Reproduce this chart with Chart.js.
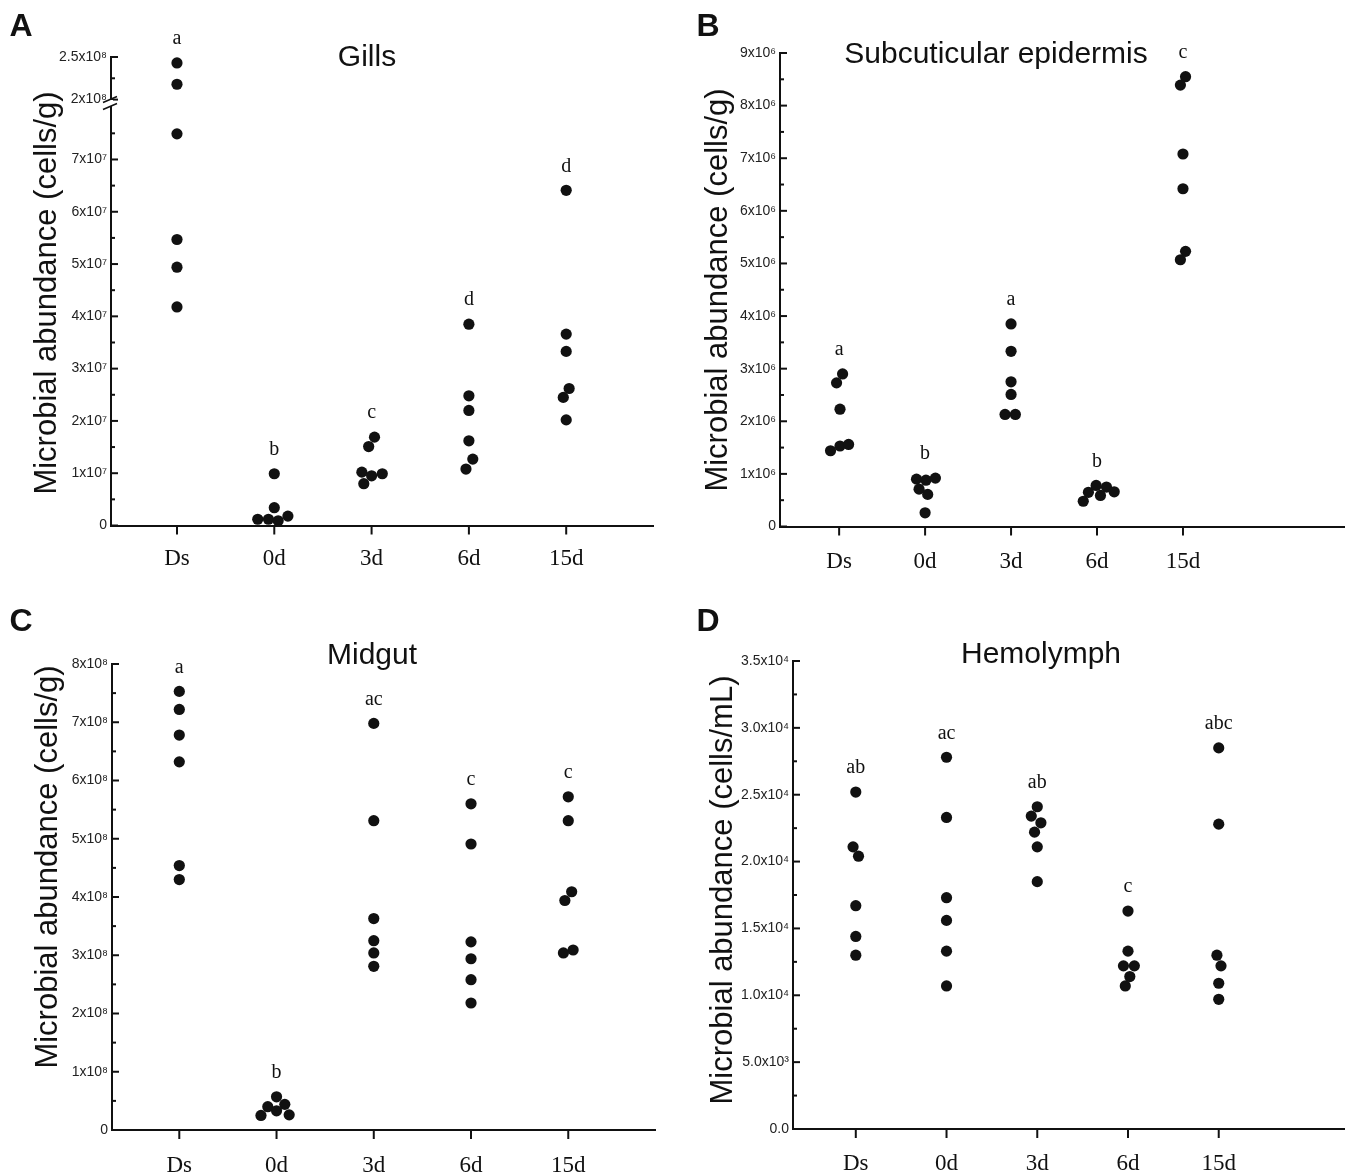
<!DOCTYPE html>
<html>
<head>
<meta charset="utf-8">
<script src="https://cdn.jsdelivr.net/npm/chart.js@4.4.1/dist/chart.umd.min.js"></script>
<style>
body { margin: 0; background: #fff; width: 1350px; height: 1176px; position: relative; overflow: hidden; }
.panel { position: absolute; width: 675px; height: 588px; }
</style>
</head>
<body>
<div class="panel" style="left:0;top:0"><canvas id="cA"></canvas></div>
<div class="panel" style="left:675px;top:0"><canvas id="cB"></canvas></div>
<div class="panel" style="left:0;top:588px"><canvas id="cC"></canvas></div>
<div class="panel" style="left:675px;top:588px"><canvas id="cD"></canvas></div>
<script>
const categories = ['Ds', '0d', '3d', '6d', '15d'];

// A - Gills (axis broken between 8x10^7 and 2x10^8)
const gillsValues = [
    [2.43e8, 2.18e8, 7.49e7, 5.47e7, 4.94e7, 4.18e7],
    [0.99e7, 0.34e7, 0.12e7, 0.12e7, 0.09e7, 0.18e7],
    [1.69e7, 1.51e7, 1.02e7, 0.95e7, 0.99e7, 0.80e7],
    [3.85e7, 2.48e7, 2.20e7, 1.62e7, 1.27e7, 1.08e7],
    [6.41e7, 3.66e7, 3.33e7, 2.62e7, 2.45e7, 2.02e7]
];
const gillsJitter = [
    [0, 0, 0, 0, 0, 0],
    [0, 0, -0.17, -0.06, 0.04, 0.14],
    [0.03, -0.03, -0.10, 0, 0.11, -0.08],
    [0, 0, 0, 0, 0.04, -0.03],
    [0, 0, 0, 0.03, -0.03, 0]
];
const gillsLetters = ['a', 'b', 'c', 'd', 'd'];
const gillsTickVals = [0, 1e7, 2e7, 3e7, 4e7, 5e7, 6e7, 7e7];
const gillsTickText = ['0', '1x10⁷', '2x10⁷', '3x10⁷', '4x10⁷', '5x10⁷', '6x10⁷', '7x10⁷'];
const gillsTopTickVals = [2e8, 2.5e8];
const gillsTopTickText = ['2x10⁸', '2.5x10⁸'];

// B - Subcuticular epidermis
const epiValues = [
    [2.90e6, 2.73e6, 2.23e6, 1.44e6, 1.53e6, 1.56e6],
    [0.90e6, 0.88e6, 0.92e6, 0.71e6, 0.61e6, 0.26e6],
    [3.85e6, 3.33e6, 2.75e6, 2.51e6, 2.13e6, 2.13e6],
    [0.48e6, 0.65e6, 0.78e6, 0.59e6, 0.75e6, 0.66e6],
    [8.55e6, 8.39e6, 7.08e6, 6.42e6, 5.23e6, 5.07e6]
];
const epiJitter = [
    [0.04, -0.03, 0.01, -0.10, 0.01, 0.11],
    [-0.10, 0.01, 0.12, -0.07, 0.03, 0],
    [0, 0, 0, 0, -0.07, 0.05],
    [-0.16, -0.10, -0.01, 0.04, 0.11, 0.20],
    [0.03, -0.03, 0, 0, 0.03, -0.03]
];
const epiLetters = ['a', 'b', 'a', 'b', 'c'];
const epiTickVals = [0, 1e6, 2e6, 3e6, 4e6, 5e6, 6e6, 7e6, 8e6, 9e6];
const epiTickText = ['0', '1x10⁶', '2x10⁶', '3x10⁶', '4x10⁶', '5x10⁶', '6x10⁶', '7x10⁶', '8x10⁶', '9x10⁶'];

// C - Midgut
const midgutValues = [
    [7.53e8, 7.22e8, 6.78e8, 6.32e8, 4.54e8, 4.30e8],
    [0.57e8, 0.40e8, 0.44e8, 0.33e8, 0.25e8, 0.26e8],
    [6.98e8, 5.31e8, 3.63e8, 3.25e8, 3.04e8, 2.81e8],
    [5.60e8, 4.91e8, 3.23e8, 2.94e8, 2.58e8, 2.18e8],
    [5.72e8, 5.31e8, 4.09e8, 3.94e8, 3.09e8, 3.04e8]
];
const midgutJitter = [
    [0, 0, 0, 0, 0, 0],
    [0, -0.09, 0.085, 0, -0.16, 0.13],
    [0, 0, 0, 0, 0, 0],
    [0, 0, 0, 0, 0, 0],
    [0, 0, 0.035, -0.035, 0.05, -0.05]
];
const midgutLetters = ['a', 'b', 'ac', 'c', 'c'];
const midgutTickVals = [0, 1e8, 2e8, 3e8, 4e8, 5e8, 6e8, 7e8, 8e8];
const midgutTickText = ['0', '1x10⁸', '2x10⁸', '3x10⁸', '4x10⁸', '5x10⁸', '6x10⁸', '7x10⁸', '8x10⁸'];

// D - Hemolymph (cells/mL)
const hemoValues = [
    [2.52e4, 2.11e4, 2.04e4, 1.67e4, 1.44e4, 1.30e4],
    [2.78e4, 2.33e4, 1.73e4, 1.56e4, 1.33e4, 1.07e4],
    [2.41e4, 2.34e4, 2.29e4, 2.22e4, 2.11e4, 1.85e4],
    [1.63e4, 1.33e4, 1.22e4, 1.22e4, 1.14e4, 1.07e4],
    [2.85e4, 2.28e4, 1.30e4, 1.22e4, 1.09e4, 0.97e4]
];
const hemoJitter = [
    [0, -0.03, 0.03, 0, 0, 0],
    [0, 0, 0, 0, 0, 0],
    [0, -0.066, 0.04, -0.03, 0, 0],
    [0, 0, -0.05, 0.07, 0.02, -0.03],
    [0, 0, -0.02, 0.025, 0, 0]
];
const hemoLetters = ['ab', 'ac', 'ab', 'c', 'abc'];
const hemoTickVals = [0, 5e3, 1e4, 1.5e4, 2e4, 2.5e4, 3e4, 3.5e4];
const hemoTickText = ['0.0', '5.0x10³', '1.0x10⁴', '1.5x10⁴', '2.0x10⁴', '2.5x10⁴', '3.0x10⁴', '3.5x10⁴'];

const SANS = "'Liberation Sans', Arial, sans-serif";
const SERIF = "'Liberation Serif', 'Times New Roman', serif";

// major ticks plus one unlabelled minor tick halfway between
function withMinor(vals, max) {
    const step = vals[1] - vals[0];
    const out = [];
    vals.forEach(v => {
        out.push(v);
        if (v + step / 2 <= max + step * 1e-6) out.push(v + step / 2);
    });
    return out;
}

function labeller(vals, text) {
    const tol = (vals[1] - vals[0]) * 1e-3;
    return v => {
        const k = vals.findIndex(t => Math.abs(t - v) < tol);
        return k < 0 ? '' : text[k];
    };
}

function yAxis(p, min, max, vals, text, extra) {
    return Object.assign({
        type: 'linear',
        position: 'left',
        min: min,
        max: max,
        afterFit: s => { s.width = p.axisW; },
        afterBuildTicks: s => { s.ticks = withMinor(vals, max).map(v => ({ value: v })); },
        grid: { display: false, drawTicks: false },
        border: { display: true, color: '#111', width: 2 },
        ticks: {
            autoSkip: false,
            padding: 4,
            color: '#222',
            font: { family: SANS, size: 14 },
            callback: labeller(vals, text)
        }
    }, extra || {});
}

const decor = {
    id: 'decor',
    afterDatasetsDraw(chart, args, p) {
        const ctx = chart.ctx;
        const area = chart.chartArea;
        const ax = area.left - 1;
        ctx.save();
        ctx.strokeStyle = '#111';
        ctx.lineWidth = 2;
        // inward y ticks
        Object.values(chart.scales).forEach(s => {
            if (s.axis !== 'y') return;
            s.ticks.forEach(t => {
                const y = s.getPixelForValue(t.value);
                const len = t.label ? 8 : 5;
                ctx.beginPath();
                ctx.moveTo(ax, y);
                ctx.lineTo(ax + len, y);
                ctx.stroke();
            });
        });
        // outward x ticks
        const xs = chart.scales.x;
        xs.ticks.forEach(t => {
            const x = xs.getPixelForValue(t.value);
            ctx.beginPath();
            ctx.moveTo(x, area.bottom);
            ctx.lineTo(x, area.bottom + 9);
            ctx.stroke();
        });
        // axis break
        if (p.breakAt) {
            const yb = chart.scales.yTop.bottom;
            ctx.fillStyle = '#fff';
            ctx.fillRect(ax - 3, yb - 3, 6, 6);
            ctx.lineWidth = 1.5;
            [-3.5, 3.5].forEach(d => {
                ctx.beginPath();
                ctx.moveTo(ax - 7, yb + d + 3);
                ctx.lineTo(ax + 7, yb + d - 3);
                ctx.stroke();
            });
        }
        // significance letters above each group
        ctx.fillStyle = '#111';
        ctx.font = '20px ' + SERIF;
        ctx.textAlign = 'center';
        ctx.textBaseline = 'middle';
        p.values.forEach((grp, i) => {
            let top = Infinity;
            grp.forEach(v => {
                const s = (p.breakAt && v > p.breakAt) ? chart.scales.yTop : chart.scales.y;
                top = Math.min(top, s.getPixelForValue(v));
            });
            ctx.fillText(p.letters[i], xs.getPixelForValue(i), top - 24);
        });
        ctx.restore();
    },
    afterDraw(chart, args, p) {
        const ctx = chart.ctx;
        ctx.save();
        ctx.fillStyle = '#111';
        ctx.textBaseline = 'middle';
        ctx.textAlign = 'center';
        ctx.font = 'bold 32px ' + SANS;
        ctx.fillText(p.letter, p.letterX, p.letterY);
        ctx.font = '30px ' + SANS;
        ctx.fillText(p.title, p.titleX, p.titleY);
        ctx.translate(p.yTitleX, p.yTitleY);
        ctx.rotate(-Math.PI / 2);
        ctx.font = '31px ' + SANS;
        ctx.fillText(p.yTitle, 0, 0);
        ctx.restore();
    }
};

function makePanel(id, p) {
    const style = {
        showLine: false,
        pointRadius: 5.6,
        pointHoverRadius: 5.6,
        pointBackgroundColor: '#111',
        pointBorderWidth: 0,
        borderColor: '#111'
    };
    const main = [];
    const upper = [];
    p.values.forEach((grp, i) => grp.forEach((v, j) => {
        const pt = { x: i + p.jitter[i][j], y: v };
        if (p.breakAt && v > p.breakAt) upper.push(pt); else main.push(pt);
    }));
    const datasets = [Object.assign({ data: main, yAxisID: 'y' }, style)];
    if (upper.length) datasets.push(Object.assign({ data: upper, yAxisID: 'yTop' }, style));

    const scales = {
        x: {
            type: 'linear',
            position: 'bottom',
            min: p.xMin,
            max: p.xMax,
            afterFit: s => { s.height = p.xAxisH; },
            afterBuildTicks: s => { s.ticks = categories.map((c, i) => ({ value: i })); },
            grid: { display: false, drawTicks: false },
            border: { display: true, color: '#111', width: 2 },
            ticks: {
                autoSkip: false,
                maxRotation: 0,
                padding: p.xPad,
                color: '#111',
                font: { family: SERIF, size: 23 },
                callback: v => categories[v]
            }
        },
        y: yAxis(p, 0, p.yMax, p.tickVals, p.tickText, p.breakAt ? { stack: 'brk', stackWeight: p.lowWeight } : {})
    };
    if (p.breakAt) {
        scales.yTop = yAxis(p, p.topMin, p.topMax, p.topTickVals, p.topTickText, { stack: 'brk', stackWeight: p.topWeight });
    }

    new Chart(document.getElementById(id), {
        type: 'scatter',
        data: { datasets: datasets },
        options: {
            responsive: true,
            maintainAspectRatio: false,
            animation: false,
            layout: { padding: { left: 0, top: p.padTop, right: p.padRight, bottom: 0 } },
            scales: scales,
            plugins: {
                legend: { display: false },
                tooltip: { enabled: false },
                decor: p
            }
        },
        plugins: [decor]
    });
}

makePanel('cA', {
    values: gillsValues, jitter: gillsJitter, letters: gillsLetters,
    tickVals: gillsTickVals, tickText: gillsTickText, yMax: 8.08e7,
    breakAt: 1e8, topMin: 1.96e8, topMax: 2.5e8,
    topTickVals: gillsTopTickVals, topTickText: gillsTopTickText,
    lowWeight: 422.5, topWeight: 46,
    axisW: 111, padTop: 57, padRight: 22, xAxisH: 62.5, xPad: 20,
    xMin: -0.678, xMax: 4.892,
    letter: 'A', letterX: 21, letterY: 27,
    title: 'Gills', titleX: 367, titleY: 58,
    yTitle: 'Microbial abundance (cells/g)', yTitleX: 47, yTitleY: 293
});

makePanel('cB', {
    values: epiValues, jitter: epiJitter, letters: epiLetters,
    tickVals: epiTickVals, tickText: epiTickText, yMax: 9e6,
    axisW: 105, padTop: 53, padRight: 4, xAxisH: 61.5, xPad: 22,
    xMin: -0.688, xMax: 5.878,
    letter: 'B', letterX: 33, letterY: 27,
    title: 'Subcuticular epidermis', titleX: 321, titleY: 55,
    yTitle: 'Microbial abundance (cells/g)', yTitleX: 43, yTitleY: 290
});

makePanel('cC', {
    values: midgutValues, jitter: midgutJitter, letters: midgutLetters,
    tickVals: midgutTickVals, tickText: midgutTickText, yMax: 8e8,
    axisW: 112, padTop: 76, padRight: 20, xAxisH: 46, xPad: 22,
    xMin: -0.692, xMax: 4.892,
    letter: 'C', letterX: 21, letterY: 34,
    title: 'Midgut', titleX: 372, titleY: 68,
    yTitle: 'Microbial abundance (cells/g)', yTitleX: 48, yTitleY: 279
});

makePanel('cD', {
    values: hemoValues, jitter: hemoJitter, letters: hemoLetters,
    tickVals: hemoTickVals, tickText: hemoTickText, yMax: 3.5e4,
    axisW: 118, padTop: 73, padRight: 4, xAxisH: 47, xPad: 21,
    xMin: -0.692, xMax: 5.385,
    letter: 'D', letterX: 33, letterY: 34,
    title: 'Hemolymph', titleX: 366, titleY: 67,
    yTitle: 'Microbial abundance (cells/mL)', yTitleX: 48, yTitleY: 302
});
</script>
</body>
</html>
